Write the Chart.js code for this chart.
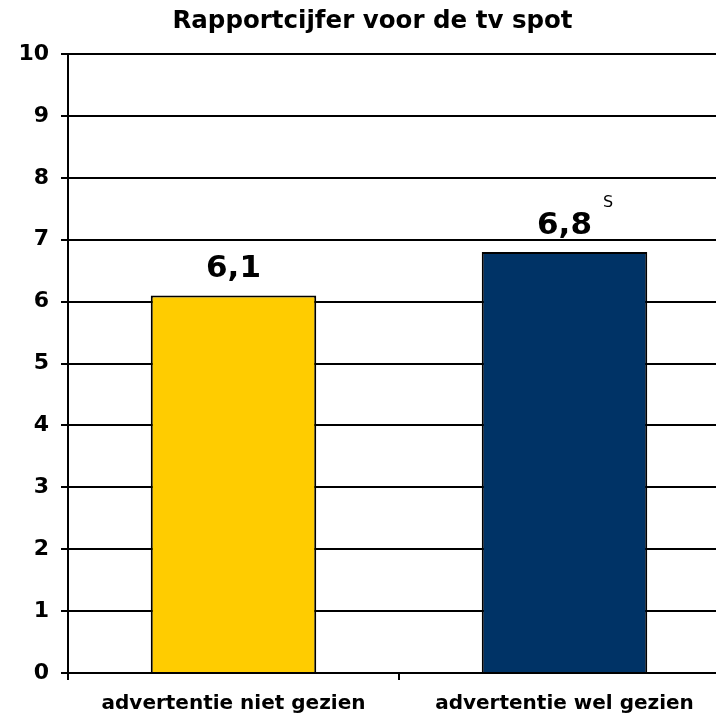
<!DOCTYPE html>
<html>
<head>
<meta charset="utf-8">
<script src="https://cdn.jsdelivr.net/npm/chart.js@4/dist/chart.umd.min.js"></script>
<style>
  html, body { margin: 0; padding: 0; background: #fff; overflow: hidden; }
  #wrap { width: 716px; height: 716px; overflow: hidden; }
</style>
</head>
<body>
<div id="wrap"><canvas id="chart" width="730" height="716"></canvas></div>
<script>
// --- Data ---
const categories = ['advertentie niet gezien', 'advertentie wel gezien'];
const scores = [6.1, 6.8];
const scoreLabels = ['6,1', '6,8'];
const significance = ['', 'S'];
const barColors = ['#FFCC00', '#003366'];
const yTicks = [0, 1, 2, 3, 4, 5, 6, 7, 8, 9, 10];

const FONT = 'Verdana, "DejaVu Sans", sans-serif';

// draws the value above each bar, plus the significance marker
const valueLabels = {
  id: 'valueLabels',
  afterDatasetsDraw(chart) {
    const ctx = chart.ctx;
    const meta = chart.getDatasetMeta(0);
    ctx.save();
    meta.data.forEach((bar, i) => {
      ctx.font = 'bold 31px ' + FONT;
      ctx.fillStyle = '#000';
      ctx.textAlign = 'center';
      ctx.textBaseline = 'alphabetic';
      ctx.fillText(scoreLabels[i], bar.x, bar.y - 18);
      if (significance[i]) {
        const w = ctx.measureText(scoreLabels[i]).width;
        ctx.font = '16px ' + FONT;
        ctx.textAlign = 'left';
        ctx.fillText(significance[i], bar.x + w / 2 + 11, bar.y - 45);
      }
    });
    ctx.restore();
  }
};

const ctx = document.getElementById('chart').getContext('2d');
new Chart(ctx, {
  type: 'bar',
  data: {
    labels: categories,
    datasets: [{
      data: scores,
      backgroundColor: barColors,
      borderColor: '#000',
      borderWidth: 2,
      barPercentage: 0.5,
      categoryPercentage: 1.0
    }]
  },
  options: {
    responsive: false,
    animation: false,
    layout: { padding: { top: 0, right: 0, bottom: 0, left: 15 } },
    plugins: {
      legend: { display: false },
      tooltip: { enabled: false },
      title: {
        display: true,
        text: 'Rapportcijfer voor de tv spot',
        color: '#000',
        font: { family: FONT, size: 24.5, weight: 'bold' },
        padding: { top: 7, bottom: 17.6 }
      }
    },
    scales: {
      x: {
        afterFit(scale) { scale.height = 43; },
        grid: {
          offset: true,
          drawOnChartArea: false,
          color: '#000',
          lineWidth: 2,
          tickLength: 7
        },
        border: { display: true, color: '#000', width: 2 },
        ticks: {
          color: '#000',
          padding: 12,
          font: { family: FONT, size: 20, weight: 'bold' }
        }
      },
      y: {
        min: 0,
        max: 10,
        afterFit(scale) { scale.width = 53; },
        afterBuildTicks(scale) { scale.ticks = yTicks.map(v => ({ value: v })); },
        grid: {
          color: '#000',
          lineWidth: 2,
          tickLength: 7
        },
        border: { display: true, color: '#000', width: 2 },
        ticks: {
          color: '#000',
          padding: 12,
          font: { family: FONT, size: 22, weight: 'bold' }
        }
      }
    }
  },
  plugins: [valueLabels]
});
</script>
</body>
</html>
